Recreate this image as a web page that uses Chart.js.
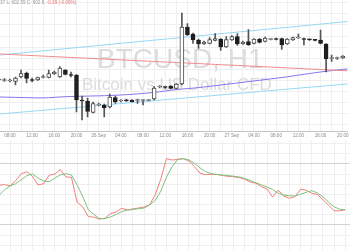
<!DOCTYPE html>
<html><head><meta charset="utf-8">
<script src="https://cdn.jsdelivr.net/npm/chart.js@4.4.0/dist/chart.umd.min.js"></script>
<style>
html,body{margin:0;padding:0;background:#fff;width:350px;height:250px;overflow:hidden}
canvas{display:block}
</style></head><body>
<canvas id="price" width="350" height="140"></canvas>
<canvas id="stoch" width="350" height="110"></canvas>
<script>
// ---- data (hourly candles, hour 0 = 25 Sep 08:00) ----
const tickLabels = ["08:00","12:00","16:00","20:00","26 Sep","04:00","08:00","12:00","16:00","20:00","27 Sep","04:00","08:00","12:00","16:00","20:00"];
const hourStart = -2;
const opens  = [600.60,600.55,600.50,600.45,600.90,601.30,600.65,600.60,600.85,600.85,601.20,600.90,601.60,601.10,601.10,598.60,598.50,597.35,598.10,598.10,597.90,598.85,598.50,598.55,598.60,598.55,598.55,598.55,598.70,599.90,599.90,600.00,599.75,600.20,605.90,605.20,604.60,604.20,604.25,604.55,604.70,603.90,604.60,604.95,604.20,604.45,604.25,604.70,604.45,604.65,604.70,604.75,604.20,604.60,604.80,604.70,604.65,604.60,604.60,604.20,602.75,602.75,602.80];
const highs  = [600.80,600.75,600.70,600.90,601.60,601.40,600.80,600.90,601.10,601.60,601.50,601.95,601.65,601.40,601.15,599.00,598.80,598.40,598.30,598.20,599.20,599.00,598.65,598.70,598.65,598.70,598.65,598.65,599.95,600.05,600.00,600.05,600.25,607.30,606.25,605.30,604.70,604.50,604.85,605.25,604.75,604.95,605.05,605.25,604.50,605.65,604.75,604.75,604.90,604.75,604.80,604.80,604.75,604.90,605.20,604.80,604.70,604.65,605.60,604.25,603.10,602.90,603.05];
const lows   = [600.45,600.45,600.40,600.10,600.80,600.30,600.40,600.55,600.80,600.80,601.15,600.85,601.10,600.90,597.40,596.60,596.90,597.30,598.00,596.90,597.80,598.25,598.40,598.45,598.40,598.25,598.10,598.50,598.60,599.80,599.75,599.70,599.70,600.10,605.05,604.25,603.75,604.15,604.20,604.50,603.55,603.85,604.55,604.05,604.15,604.05,604.20,604.30,604.40,604.60,604.60,603.65,604.15,604.55,604.75,604.10,604.55,604.50,604.20,601.40,602.45,602.65,602.75];
const closes = [600.60,600.60,600.55,600.80,601.25,600.75,600.55,600.85,600.90,601.25,601.40,601.80,601.15,601.05,598.60,598.50,597.45,598.25,598.15,597.80,598.90,598.40,598.55,598.52,598.43,598.60,598.60,598.60,599.80,599.95,599.85,599.75,600.20,605.90,605.10,604.60,604.20,604.40,604.65,604.75,603.90,604.65,604.95,604.20,604.40,604.10,604.70,604.35,604.80,604.70,604.65,604.10,604.70,604.85,604.85,604.65,604.62,604.57,604.25,602.70,602.80,602.80,603.00];
const stochK = [59,59.8,58.4,63.5,70.3,72.4,68,59.5,60.5,69,70,74.5,67.3,66.9,42.5,38,28.3,27.7,25.8,26.6,31.2,33,36.4,34.8,35.8,36.7,37.6,40,49.7,65.5,85.3,83.9,84.5,85.2,83,77.6,70.8,69.5,69.8,69.8,68.7,67.9,67.4,66.7,65,62.3,61.1,57.7,55.4,47.5,54.3,48.5,46.3,47.8,55.1,54.2,51.2,50,45,39.5,34,34,35];
const stochD = [49,54.5,58.4,60.6,64.5,68.4,70.3,66.2,63.3,62.6,66,69.3,70.4,69.2,59.5,48.3,35,30.5,26.3,26.4,27.9,30.3,33.3,34.6,35.3,36,36.7,39.8,44.3,53.4,67,77.3,84.6,85.3,84.1,80.7,76.2,72.5,70.4,69.7,69.1,68.6,68,67.2,65.8,63.7,61.6,59.4,57.3,54.9,51.2,49.4,48.8,48.5,50.1,52.2,53.8,51.6,47.8,42.4,37.9,35.5,34.8];
const maHours = [-2,2,6,10,14,18,22,26,30,34,38,42,46,50,54,58,62];
const maRed   = [603.21,603.10,602.99,602.88,602.78,602.67,602.56,602.45,602.35,602.24,602.13,602.03,601.92,601.81,601.70,601.60,601.49];
const maBlue  = [598.90,598.85,598.81,598.93,598.99,599.05,599.17,599.36,599.64,599.84,600.10,600.37,600.64,600.92,601.25,601.54,601.77];
const channelHours = [-2,62];
const channelUpper = [603.09,606.51];
const channelLower = [597.19,600.26];
const headerPrefix = "H: 603.";
const headerMain = "37 L: 602.55 C: 602.8, ";
const headerChange = "-0.39 (-0.06%)";
const watermark1 = "BTCUSD, H1";
const watermark2 = "Bitcoin vs US Dollar CFD";

// ---- setup ----
const FONT = "'Liberation Sans', Arial, sans-serif";
const X_MIN = -1.79, X_MAX = 60.85;
const GRID = '#efefef';
const hours = opens.map((_, i) => hourStart + i);

function buildXTicks(scale) {
  const t = [];
  for (let h = -2; h <= 64; h += 2) if (h >= scale.min && h <= scale.max) t.push({ value: h });
  scale.ticks = t;
}

const wicks = hours.map((h, i) => ({ x: h, y: [lows[i], highs[i]] }));
const bodies = hours.map((h, i) => ({ x: h, y: [opens[i], closes[i]] }));
const bodyFill = hours.map((h, i) => closes[i] < opens[i] ? '#1e1e1e' : '#ffffff');
const bodyBorder = hours.map((h, i) => closes[i] < opens[i] ? '#1e1e1e' : '#4a4a4a');
const pairs = (xs, ys) => xs.map((x, i) => ({ x, y: ys[i] }));

const textPlugin = {
  id: 'texts',
  beforeDatasetsDraw(chart) {
    const ctx = chart.ctx;
    ctx.save();
    ctx.fillStyle = '#dcdcdc';
    ctx.textBaseline = 'alphabetic';
    ctx.textAlign = 'left';
    ctx.font = `28px ${FONT}`;
    ctx.fillText(watermark1, 97, 68);
    ctx.font = `17px ${FONT}`;
    ctx.fillText(watermark2, 82, 90);
    ctx.restore();
  },
  afterDraw(chart) {
    const ctx = chart.ctx;
    ctx.save();
    ctx.font = `4.6px ${FONT}`;
    ctx.textBaseline = 'middle';
    ctx.textAlign = 'left';
    const x0 = -ctx.measureText(headerPrefix).width;
    ctx.fillStyle = '#9a9a9a';
    ctx.fillText(headerPrefix + headerMain, x0, 3);
    const w = ctx.measureText(headerPrefix + headerMain).width;
    ctx.fillStyle = '#f07070';
    ctx.fillText(headerChange, x0 + w, 3);
    ctx.restore();
  }
};

new Chart(document.getElementById('price'), {
  type: 'bar',
  data: {
    datasets: [
      { type: 'bar', data: bodies, grouped: false, order: 0, barThickness: 4, minBarLength: 1,
        backgroundColor: bodyFill, borderColor: bodyBorder, borderWidth: 1, borderSkipped: false },
      { type: 'bar', data: wicks, grouped: false, order: 1, barThickness: 1,
        backgroundColor: '#555555', borderWidth: 0 },
      { type: 'line', data: pairs(maHours, maRed), order: 2, borderColor: '#f08a8a', borderWidth: 1, pointRadius: 0, tension: 0.3 },
      { type: 'line', data: pairs(maHours, maBlue), order: 2, borderColor: '#8475ee', borderWidth: 1, pointRadius: 0, tension: 0.3 },
      { type: 'line', data: pairs(channelHours, channelUpper), order: 2, borderColor: '#95d8f5', borderWidth: 1, pointRadius: 0 },
      { type: 'line', data: pairs(channelHours, channelLower), order: 2, borderColor: '#95d8f5', borderWidth: 1, pointRadius: 0 }
    ]
  },
  options: {
    responsive: false, animation: false, devicePixelRatio: 1,
    layout: { padding: 0 },
    plugins: { legend: { display: false }, tooltip: { enabled: false } },
    scales: {
      x: {
        type: 'linear', min: X_MIN, max: X_MAX, offset: false,
        afterBuildTicks: buildXTicks,
        afterFit(s) { s.height = 9; },
        grid: { color: GRID, drawTicks: false, offset: false },
        border: { display: true, color: '#c4c4c4' },
        ticks: {
          autoSkip: false, maxRotation: 0, padding: 1.5, color: '#8a8a8a',
          font: { family: FONT, size: 4.6 },
          callback: v => (v >= 0 && v % 4 === 0 && tickLabels[v / 4]) ? tickLabels[v / 4] : ''
        }
      },
      y: {
        type: 'linear', min: 595.5, max: 608.6,
        afterBuildTicks(s) { const t = []; for (let v = 608.6 - 0.3; v >= 595.5; v -= 1.1) t.push({ value: v }); s.ticks = t; },
        afterFit(s) { s.width = 0; },
        grid: { color: GRID, drawTicks: false },
        border: { display: false },
        ticks: { display: false }
      }
    }
  },
  plugins: [textPlugin]
});

new Chart(document.getElementById('stoch'), {
  type: 'line',
  data: {
    datasets: [
      { data: pairs(hours, stochD), borderColor: '#7cc27c', borderWidth: 1, pointRadius: 0, tension: 0 },
      { data: pairs(hours, stochK), borderColor: '#f57d7d', borderWidth: 1, pointRadius: 0, tension: 0 }
    ]
  },
  options: {
    responsive: false, animation: false, devicePixelRatio: 1,
    layout: { padding: 0 },
    plugins: { legend: { display: false }, tooltip: { enabled: false } },
    scales: {
      x: {
        type: 'linear', min: X_MIN, max: X_MAX, offset: false,
        afterBuildTicks: buildXTicks,
        afterFit(s) { s.height = 0; },
        grid: { color: GRID, drawTicks: false },
        border: { display: false },
        ticks: { display: false }
      },
      y: {
        type: 'linear', min: -4.6, max: 103.6,
        afterBuildTicks(s) { const t = []; for (let v = 0; v <= 100; v += 10) t.push({ value: v }); s.ticks = t; },
        afterFit(s) { s.width = 0; },
        grid: { color: c => (c.tick && (c.tick.value === 20 || c.tick.value === 80)) ? '#d2d2d2' : GRID, drawTicks: false },
        border: { display: false },
        ticks: { display: false }
      }
    }
  }
});
</script>
</body></html>
